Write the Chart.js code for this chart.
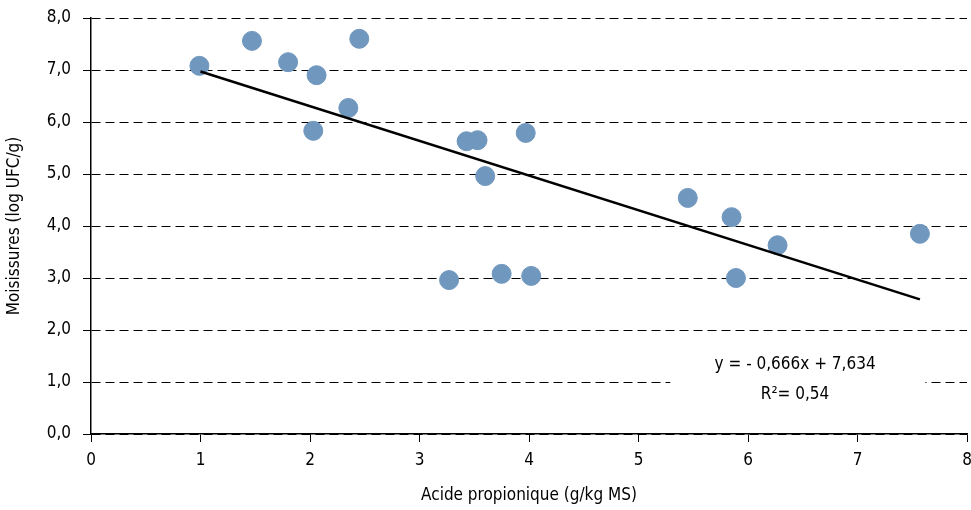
<!DOCTYPE html>
<html lang="fr">
<head>
	<meta charset="UTF-8">
	<title>Moisissures</title>
	<script src="https://cdn.jsdelivr.net/npm/chart.js@4.4.0/dist/chart.umd.min.js"></script>
	<style>
		body { margin: 0; background: #fff; }
		#wrap { width: 971px; height: 510px; }
	</style>
</head>
<body>
	<div id="wrap"><canvas id="myChart"></canvas></div>
	<script>
	// propionic acid (g/kg MS) vs moulds (log UFC/g)
	let acide = [0.99, 1.47, 1.80, 2.06, 2.03, 2.35, 2.45, 3.43, 3.53, 3.60, 3.97, 3.27, 3.75, 4.02, 5.45, 5.85, 5.89, 6.27, 7.57]
	let moisissures = [7.08, 7.56, 7.15, 6.90, 5.83, 6.27, 7.60, 5.63, 5.65, 4.96, 5.79, 2.96, 3.08, 3.04, 4.54, 4.17, 3.00, 3.63, 3.85]
	let trendX = [1, 7.57]
	let trendY = [6.97, 2.59]
	let equation = ['y = - 0,666x + 7,634', 'R²= 0,54']

	let font = "'DejaVu Sans Condensed', 'Liberation Sans Narrow', sans-serif"

	let points = acide.map((x, i) => ({x: x, y: moisissures[i]}))
	let trend = trendX.map((x, i) => ({x: x, y: trendY[i]}))

	// white box with the regression equation
	let eqBox = {
		id: 'eqBox',
		beforeDatasetsDraw(chart) {
			let ctx = chart.ctx
			let xs = chart.scales.x, ys = chart.scales.y
			let left = xs.getPixelForValue(5.29), right = xs.getPixelForValue(7.62)
			let top = ys.getPixelForValue(1.6), bottom = ys.getPixelForValue(0.45)
			ctx.save()
			ctx.fillStyle = '#fff'
			ctx.fillRect(left, top, right - left, bottom - top)
			ctx.fillStyle = '#000'
			ctx.font = '17px ' + font
			ctx.textAlign = 'center'
			ctx.textBaseline = 'middle'
			let cx = xs.getPixelForValue(6.43)
			ctx.fillText(equation[0], cx, ys.getPixelForValue(1.33))
			ctx.fillText(equation[1], cx, ys.getPixelForValue(0.75))
			ctx.restore()
		}
	}

	var ctx = document.getElementById('myChart').getContext('2d')
	var chart = new Chart(ctx, {
		type: 'scatter',
		data: {
			datasets: [{
				label: 'Moisissures',
				data: points,
				backgroundColor: 'rgb(112, 151, 190)',
				borderColor: 'rgb(112, 151, 190)',
				pointRadius: 9.5,
				pointHoverRadius: 9.5,
				order: 2
			}, {
				type: 'line',
				label: 'Tendance',
				data: trend,
				borderColor: '#000',
				borderWidth: 2.5,
				pointRadius: 0,
				fill: false,
				order: 1
			}]
		},
		plugins: [eqBox],
		options: {
			responsive: true,
			maintainAspectRatio: false,
			animation: false,
			layout: { autoPadding: false, padding: { top: 18, right: 4, left: 0, bottom: 0 } },
			plugins: {
				legend: { display: false },
				tooltip: { enabled: false }
			},
			scales: {
				x: {
					type: 'linear',
					min: 0, max: 8,
					afterFit(scale) {
						scale.height = 76
						scale.paddingRight = 0; scale.paddingLeft = 0
						scale.paddingTop = 0; scale.paddingBottom = 0
					},
					grid: { drawOnChartArea: false, drawTicks: true, tickLength: 8, color: '#000' },
					border: { color: '#000', width: 1.5 },
					ticks: { stepSize: 1, color: '#000', padding: 8, font: { family: font, size: 17 } },
					title: { display: true, text: 'Acide propionique (g/kg MS)', color: '#000', padding: { top: 6 }, font: { family: font, size: 17 } }
				},
				y: {
					min: 0, max: 8,
					afterFit(scale) {
						scale.width = 91
						scale.paddingRight = 0; scale.paddingLeft = 0
						scale.paddingTop = 0; scale.paddingBottom = 0
					},
					grid: { color: '#000', lineWidth: 1, tickLength: 8, tickColor: '#000' },
					border: { color: '#000', width: 1.5, dash: [9, 5] },
					ticks: {
						stepSize: 1, color: '#000', padding: 12,
						font: { family: font, size: 17 },
						callback: v => v.toFixed(1).replace('.', ',')
					},
					title: { display: true, text: 'Moisissures (log UFC/g)', color: '#000', padding: { top: 4, bottom: 0 }, font: { family: font, size: 17 } }
				}
			}
		}
	})
	</script>
</body>
</html>
